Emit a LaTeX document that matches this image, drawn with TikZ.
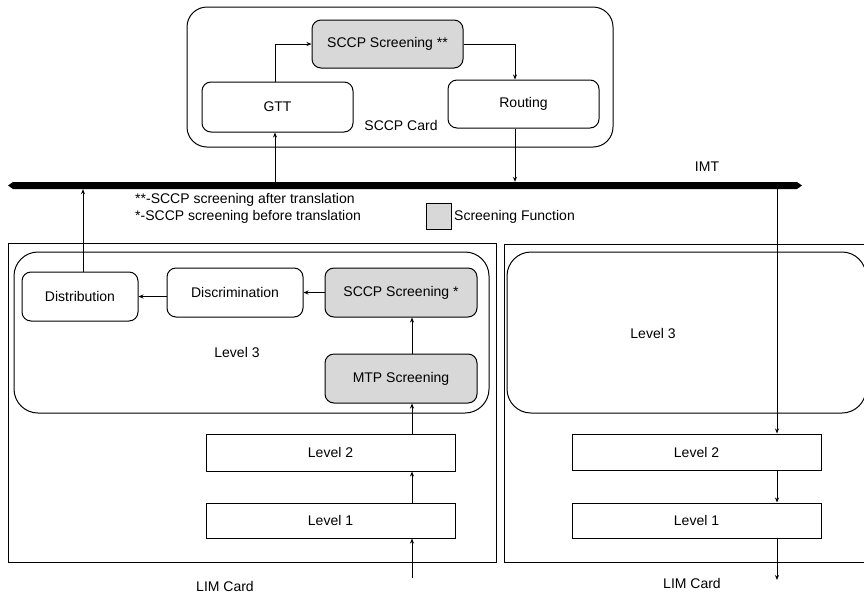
\documentclass[tikz,border=0pt]{standalone}
\usepackage{fontspec}
\setmainfont{Liberation Sans}
\usetikzlibrary{arrows.meta}
\definecolor{scrgray}{RGB}{216,216,216}
\begin{document}
\begin{tikzpicture}[x=1pt,y=-1pt,
  lw/.style={line width=1pt},
  box/.style={draw,lw,rounded corners=9pt,inner sep=0pt,font=\fontsize{14}{16}\selectfont},
  scrbox/.style={box,fill=scrgray},
  lvbox/.style={draw,lw,inner sep=0pt,font=\fontsize{14}{16}\selectfont},
  card/.style={draw,lw,inner sep=0pt},
  lbl/.style={inner sep=0pt,font=\fontsize{14}{16}\selectfont},
  arr/.style={lw,-{Stealth[length=5pt,width=4pt]}}
]
\useasboundingbox (0,0) rectangle (864,595);
% SCCP card
\node[card,rounded corners=20pt,minimum width=426pt,minimum height=140pt] (sccpcard) at (400,77) {};
\node[scrbox,minimum width=151pt,minimum height=48pt] (scrtop) at (387.5,44) {SCCP Screening **};
\node[box,minimum width=151pt,minimum height=50pt] (gtt) at (277.5,107) {GTT};
\node[box,minimum width=151pt,minimum height=48pt] (routing) at (523.5,104) {Routing};
\node[lbl] (cardlbl) at (401,125) {SCCP Card};
% IMT bus
\node[inner sep=0pt,minimum width=794pt,minimum height=7pt] (imt) at (405,185.5) {};
\fill (8,185.5) -- (13,182) -- (797,182) -- (802,185.5) -- (797,189) -- (13,189) -- cycle;
\node[lbl] (imtlbl) at (707,167) {IMT};
% legend
\node[lbl,anchor=west] (leg1) at (135,200) {**-SCCP screening after translation};
\node[lbl,anchor=west] (leg2) at (135,217) {*-SCCP screening before translation};
\node[draw,lw,fill=scrgray,minimum width=25pt,minimum height=26pt,inner sep=0pt] (legbox) at (438.5,216) {};
\node[lbl,anchor=west] (legtxt) at (454,217) {Screening Function};
% left LIM card
\node[card,minimum width=488pt,minimum height=319pt] (limL) at (252,402.5) {};
\node[card,rounded corners=24pt,minimum width=475pt,minimum height=161pt] (l3L) at (251.5,332.5) {};
\node[box,minimum width=116pt,minimum height=49pt] (dist) at (80,296.5) {Distribution};
\node[box,minimum width=136pt,minimum height=49pt] (disc) at (235,292.5) {Discrimination};
\node[scrbox,minimum width=152pt,minimum height=49pt] (scr1) at (401,292.5) {SCCP Screening *};
\node[scrbox,minimum width=152pt,minimum height=49pt] (mtp) at (401,378.5) {MTP Screening};
\node[lbl] (l3Llbl) at (237,352) {Level 3};
\node[lvbox,minimum width=249pt,minimum height=37pt] (lev2L) at (330.5,452.5) {Level 2};
\node[lvbox,minimum width=249pt,minimum height=35pt] (lev1L) at (330.5,520.5) {Level 1};
\node[lbl] (limLlbl) at (225,586) {LIM Card};
% right LIM card
\node[card,minimum width=376pt,minimum height=318pt] (limR) at (692,403) {};
\node[card,rounded corners=24pt,minimum width=359pt,minimum height=161pt] (l3R) at (686.5,332.5) {};
\node[lbl] (l3Rlbl) at (653,333) {Level 3};
\node[lvbox,minimum width=249pt,minimum height=36pt] (lev2R) at (696.5,452) {Level 2};
\node[lvbox,minimum width=249pt,minimum height=35pt] (lev1R) at (696.5,520.5) {Level 1};
\node[lbl] (limRlbl) at (692,583) {LIM Card};
% helper coordinates
\coordinate (gx) at (275,0);
\coordinate (rx) at (515,0);
\coordinate (dx) at (83,0);
\coordinate (lx) at (412,0);
\coordinate (rvx) at (777,0);
\coordinate (inL) at (412,578);
\coordinate (outR) at (777,580);
% SCCP card connectors
\draw[arr] (gx |- gtt.north) |- (scrtop.west);
\draw[arr] (scrtop.east) -| (rx |- routing.north);
\draw[arr] (gx |- imt.north) -- (gx |- gtt.south);
\draw[arr] (rx |- routing.south) -- (rx |- imt.north);
% left card connectors
\draw[arr] (dx |- dist.north) -- (dx |- imt.south);
\draw[arr] (scr1.west) -- (disc.east);
\draw[arr] (disc.west |- dist.east) -- (dist.east);
\draw[arr] (lx |- mtp.north) -- (lx |- scr1.south);
\draw[arr] (lx |- lev2L.north) -- (lx |- mtp.south);
\draw[arr] (lx |- lev1L.north) -- (lx |- lev2L.south);
\draw[arr] (inL) -- (lx |- lev1L.south);
% right card connectors
\draw[arr] (rvx |- imt.south) -- (rvx |- lev2R.north);
\draw[arr] (rvx |- lev2R.south) -- (rvx |- lev1R.north);
\draw[arr] (rvx |- lev1R.south) -- (outR);
\end{tikzpicture}
\end{document}
